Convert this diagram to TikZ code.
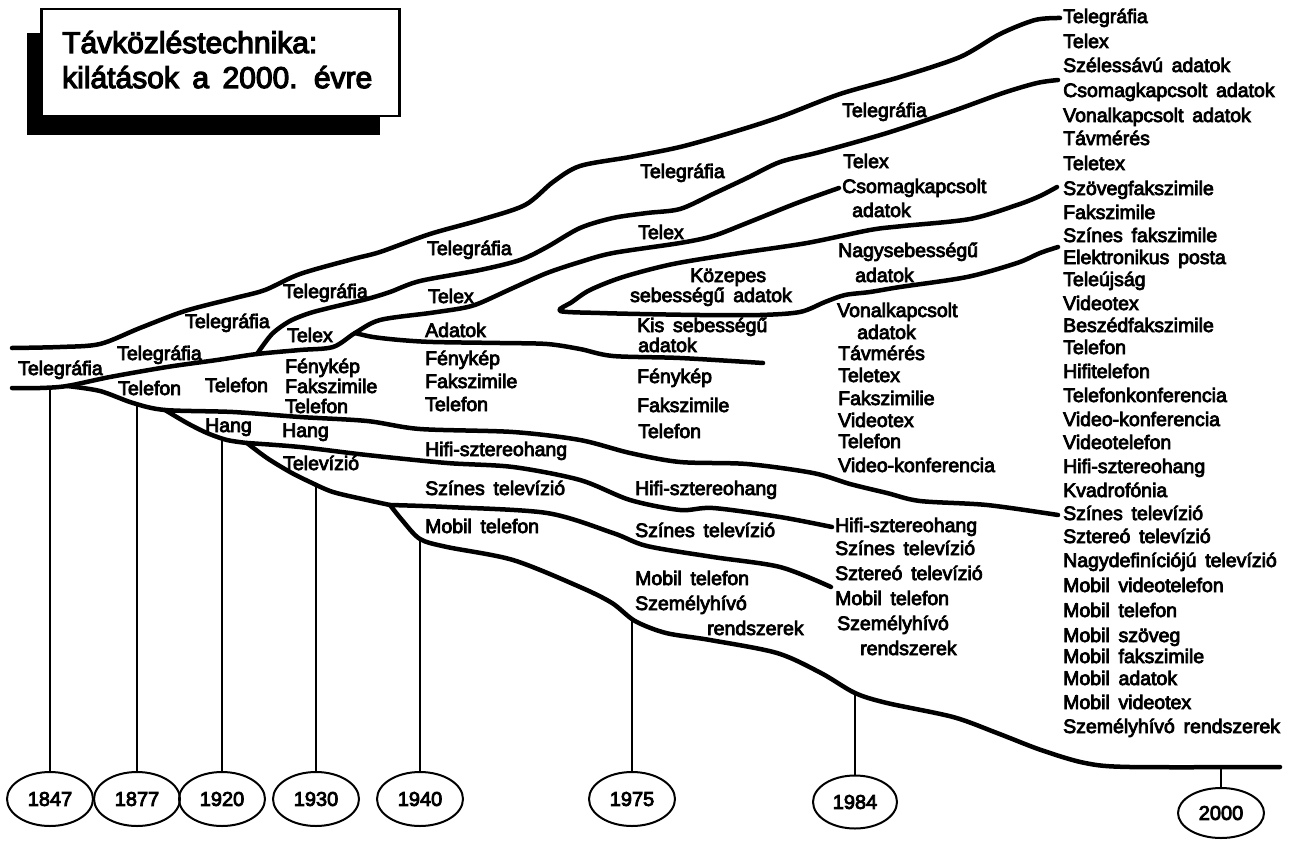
\documentclass[tikz,border=0pt]{standalone}
\usepackage{fontspec}
\setmainfont{Liberation Sans}
\newfontfamily\lblfont{Liberation Sans}[FakeBold=4]
\newfontfamily\yrfont{Liberation Sans}[FakeBold=4]
\newcommand\widesp{\spaceskip=0.45em\relax}
\usetikzlibrary{shapes.geometric}
\begin{document}
\begin{tikzpicture}[x=1pt,y=-1pt,
  band/.style={line width=4.5pt,line cap=round,line join=round},
  tick/.style={line width=1.5pt},
  yr/.style={draw,ellipse,line width=2pt,minimum width=86pt,minimum height=54pt,inner sep=0pt,font=\yrfont\fontsize{20}{20}\selectfont},
  lbl/.style={anchor=west,inner sep=0pt,text height=14pt,text depth=4pt,font=\lblfont\fontsize{19.5}{22}\selectfont\widesp},
  ttl/.style={anchor=base west,inner sep=0pt,font=\lblfont\fontsize{30}{35}\selectfont\widesp}
]
\useasboundingbox (0,0) rectangle (1292,840);
\fill[white] (0,0) rectangle (1292,840);

% title
\fill (27,33) rectangle (380,135);
\node[draw,fill=white,line width=2.5pt,minimum width=358pt,minimum height=107pt,anchor=north west,inner sep=0pt] (title) at (40,8) {};
\node[ttl] (t1) at (62,53) {Távközléstechnika:};
\node[ttl] (t2) at (62,88) {kilátások a 2000. évre};

% right list
\foreach \t/\yy [count=\i] in {Telegráfia/18, Telex/43, Szélessávú adatok/67, Csomagkapcsolt adatok/92, Vonalkapcsolt adatok/117, Távmérés/140, Teletex/165, Szövegfakszimile/190, Fakszimile/214, Színes fakszimile/237, Elektronikus posta/259, Teleújság/281, Videotex/305, Beszédfakszimile/327, Telefon/349, Hifitelefon/373, Telefonkonferencia/397, Video-konferencia/421, Videotelefon/444, Hifi-sztereohang/468, Kvadrofónia/492, Színes televízió/515, Sztereó televízió/538, Nagydefiníciójú televízió/562, Mobil videotelefon/587, Mobil telefon/612, Mobil szöveg/637, Mobil fakszimile/658, Mobil adatok/680, Mobil videotex/704, Személyhívó rendszerek/728}
  \node[lbl] (r\i) at (1063,\yy) {\t};

% labels
\foreach \t/\xx/\yy [count=\i] in {
 Telegráfia/18/370, Telegráfia/117/355, Telegráfia/185/323, Telegráfia/283/293,
 Telex/287/337, Telefon/118/390, Telefon/205/387, Fénykép/285/368,
 Fakszimile/285/388, Telefon/285/408, Hang/205/427, Hang/282/432, Televízió/283/465,
 Telegráfia/427/250, Telex/428/298, Adatok/425/332, Fénykép/425/360,
 Fakszimile/425/383, Telefon/425/406, Hifi-sztereohang/425/451,
 Színes televízió/425/490, Mobil telefon/425/528,
 Telegráfia/640/173, Telex/638/234, Közepes/690/277, sebességű adatok/630/297,
 Kis sebességű/637/327, adatok/638/347, Fénykép/637/378, Fakszimile/637/407,
 Telefon/638/433, Hifi-sztereohang/635/490, Színes televízió/635/532,
 Mobil telefon/635/580, Személyhívó/635/605, rendszerek/707/630,
 Telegráfia/842/112, Telex/843/163, Csomagkapcsolt/842/188, adatok/852/212,
 Nagysebességű/838/252, adatok/855/277, Vonalkapcsolt/837/312, adatok/857/334,
 Távmérés/838/355, Teletex/838/377, Fakszimilie/838/400, Videotex/838/422,
 Telefon/838/443, Video-konferencia/838/467, Hifi-sztereohang/835/527,
 Színes televízió/835/550, Sztereó televízió/835/575, Mobil telefon/835/600,
 Személyhívó/837/625, rendszerek/860/650}
  \node[lbl] (m\i) at (\xx,\yy) {\t};

% junctions and ends
\coordinate (sA) at (12,348);
\coordinate (sT) at (12,388);
\coordinate (J1) at (67,386);
\coordinate (J2) at (257,354);
\coordinate (J3) at (355,333);
\coordinate (J4) at (165,410);
\coordinate (J5) at (247,443);
\coordinate (J6) at (390,505);
\coordinate (tip) at (560,311);
\coordinate (eA) at ([xshift=-3pt]r1.west);
\coordinate (eB) at (1058,80);
\coordinate (eTx) at ([xshift=-3pt]m39.west);
\coordinate (eAd) at (763,363);
\coordinate (eK1) at (1057,187);
\coordinate (eK2) at (1058,247);
\coordinate (eTel) at ([xshift=-5pt]r22.west);
\coordinate (eHifi) at ([xshift=-3pt]m51.west);
\coordinate (eSzt) at (831,587);
\coordinate (eBot) at (1280,767);

% curves
\draw[band] plot[smooth,tension=0.5] coordinates {(sA) (60,347) (100,344) (140,328) (185,311) (235,298) (265,290) (300,274) (353,259) (380,252) (430,234) (480,220) (525,205) (553,182) (580,166) (630,157) (680,147) (730,133) (780,117) (840,94) (900,77) (960,57) (1000,34) (1035,20) (eA)};
\draw[band] plot[smooth,tension=0.5] coordinates {(sT) (40,388) (J1) (110,377) (167,367) (217,360) (J2) (300,350) (333,347) (J3) (380,320) (430,313) (463,308) (480,303) (513,288) (547,273) (580,262) (613,253) (680,243) (713,236) (747,223) (797,203) (eTx)};
\draw[band] plot[smooth,tension=0.5] coordinates {(J2) (272,334) (290,321) (310,313) (333,307) (367,299) (390,292) (420,281) (480,270) (520,260) (547,247) (580,228) (613,218) (647,213) (680,209) (713,194) (747,178) (780,162) (820,152) (887,133) (953,111) (1003,93) (1037,83) (eB)};
\draw[band] plot[smooth,tension=0.5] coordinates {(J3) (373,337) (400,340) (433,342) (500,343) (547,344) (580,349) (613,356) (680,358) (eAd)};
\draw[band] plot[smooth,tension=0.5] coordinates {(eK1) (1040,196) (1017,205) (970,219) (903,226) (870,230) (807,243) (740,253) (673,264) (623,277) (590,290) (572,302) (tip) (600,313) (640,314) (700,315) (760,315) (800,312) (825,302) (845,295) (870,292) (900,287) (967,277) (1017,263) (1040,253) (eK2)};
\draw[band] plot[smooth,tension=0.5] coordinates {(J1) (100,391) (133,403) (J4) (233,412) (300,417) (367,421) (420,429) (513,432) (580,440) (630,453) (680,462) (747,464) (813,473) (850,484) (887,493) (920,501) (987,505) (eTel)};
\draw[band] plot[smooth,tension=0.5] coordinates {(J4) (187,423) (207,433) (227,440) (J5)};
\draw[band] plot[smooth,tension=0.5] coordinates {(J5) (300,447) (367,455) (447,463) (513,467) (580,480) (630,500) (680,510) (713,508) (780,517) (eHifi)};
\draw[band] plot[smooth,tension=0.5] coordinates {(J5) (267,458) (290,472) (310,482) (333,492) (367,500) (J6)};
\draw[band] plot[smooth,tension=0.5] coordinates {(J6) (447,507) (547,513) (613,533) (647,546) (713,557) (780,567) (eSzt)};
\draw[band] plot[smooth,tension=0.5] coordinates {(J6) (402,520) (420,539) (447,547) (513,560) (580,587) (612,603) (635,621) (666,633) (710,640) (777,653) (821,673) (855,693) (887,703) (953,717) (997,733) (1041,750) (1085,763) (1130,767) (eBot)};

% years
\node[yr] (y1847) at (50,799) {1847};
\node[yr] (y1877) at (137,799) {1877};
\node[yr] (y1920) at (222,799) {1920};
\node[yr] (y1930) at (316,799) {1930};
\node[yr] (y1940) at (420,799) {1940};
\node[yr] (y1975) at (632,799) {1975};
\node[yr,minimum width=84pt,minimum height=53pt] (y1984) at (855,802) {1984};
\node[yr,minimum height=50pt] (y2000) at (1221,813) {2000};

\coordinate (v1847) at (52,388);
\coordinate (v1877) at (137,405);
\coordinate (v1920) at (222,438);
\coordinate (v1930) at (316,486);
\coordinate (v1940) at (420,539);
\coordinate (v1975) at (632,620);
\coordinate (v1984) at (855,693);
\coordinate (v2000) at (1221,767);
\foreach \y in {1847,1877,1920,1930,1940,1975,1984,2000}
  \draw[tick] (y\y.north) -- (y\y.north |- v\y);
\end{tikzpicture}
\end{document}
